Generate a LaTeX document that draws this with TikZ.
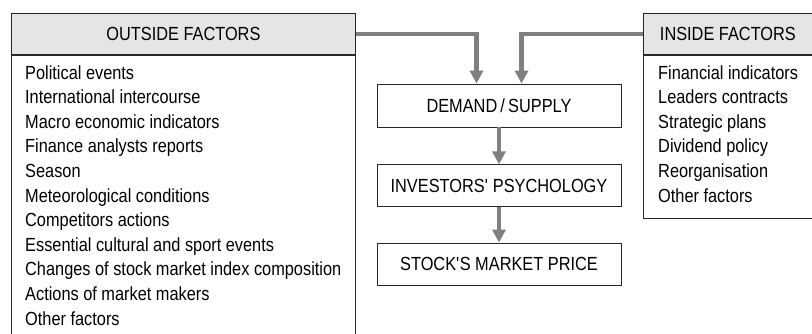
\documentclass[tikz,border=0pt]{standalone}
\usepackage{fontspec}
\setmainfont{Liberation Sans}[FakeStretch=0.86]
\usetikzlibrary{arrows.meta}
\tikzstyle{head} = [rectangle, draw=black!85, line width=0.8bp, fill=black!10, anchor=north west, inner sep=0]
\tikzstyle{body} = [rectangle, draw=black!85, line width=0.8bp, anchor=north west, inner sep=0]
\tikzstyle{stage} = [rectangle, draw=black!85, line width=0.8bp, minimum width=244bp, minimum height=42bp, inner sep=0]
\tikzstyle{item} = [anchor=base west, inner sep=0]
\tikzstyle{arrow} = [line width=4.5bp, draw=black!50, -{Triangle[width=13bp,length=13bp]}]

\begin{document}
\begin{tikzpicture}[x=1bp, y=-1bp, font=\fontsize{19bp}{24.6bp}\selectfont]
\useasboundingbox (0,0) rectangle (812,333);

% factor boxes
\node[head, minimum width=344bp, minimum height=41bp] (outh) at (11,13) {OUTSIDE FACTORS};
\node[body, minimum width=344bp, minimum height=284bp] (outb) at (outh.south west) {};
\node[head, minimum width=169bp, minimum height=41bp] (inh) at (643,13) {INSIDE FACTORS};
\node[body, minimum width=169bp, minimum height=163bp] (inb) at (inh.south west) {};

\foreach \t [count=\i from 0] in {Political events, International intercourse,
	Macro economic indicators, Finance analysts reports, Season,
	Meteorological conditions, Competitors actions,
	Essential cultural and sport events,
	Changes of stock market index composition,
	Actions of market makers, Other factors}{
	\node[item] (out\i) at (25,{79+24.6*\i}) {\t};
}
\foreach \t [count=\i from 0] in {Financial indicators, Leaders contracts,
	Strategic plans, Dividend policy, Reorganisation, Other factors}{
	\node[item] (in\i) at (658,{79+24.6*\i}) {\t};
}

% chain in the middle
\node[stage, minimum height=43bp] (dem) at (499,105.5) {DEMAND\thinspace/\thinspace SUPPLY};
\node[stage] (inv) at (499,185.75) {INVESTORS\textquotesingle\ PSYCHOLOGY};
\node[stage] (price) at (499,264) {STOCK\textquotesingle S MARKET PRICE};

\draw[arrow] (outh.east) -| ([xshift=-22.5bp]dem.north);
\draw[arrow] (inh.west) -| ([xshift=22.5bp]dem.north);
\draw[arrow] (dem) -- (inv);
\draw[arrow] (inv) -- (price);
\end{tikzpicture}
\end{document}
